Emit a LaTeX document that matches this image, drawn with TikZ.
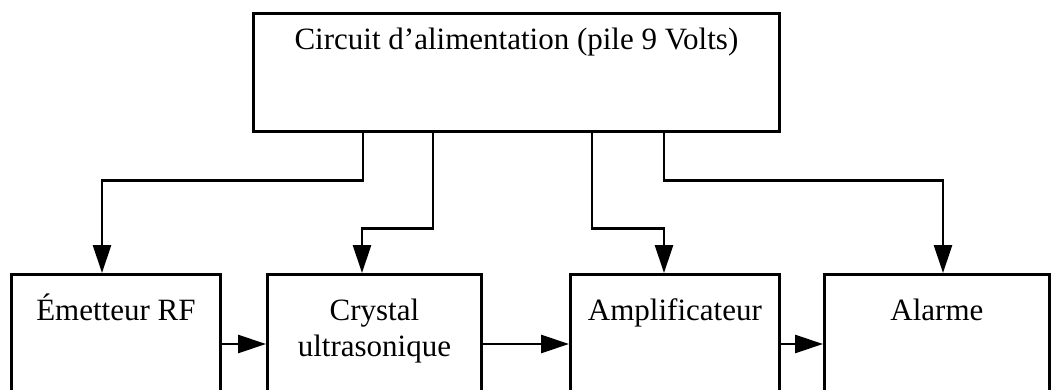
\documentclass[tikz,border=0pt]{standalone}
\usepackage{fontspec}
\setmainfont{Liberation Serif}
\usetikzlibrary{arrows.meta}

\begin{document}
\begin{tikzpicture}[x=1pt,y=-1pt,
    block/.style={draw,line width=2.8pt,anchor=north west,inner sep=0pt,align=center,
        font=\fontsize{31}{36}\selectfont,text height=46pt,text depth=81pt},
    feed/.style={line width=2.8pt,-{Triangle[length=28pt,width=18pt]}}]
\useasboundingbox (0,0) rectangle (1054,390);
\clip (0,0) rectangle (1054,390);
\node[block,minimum width=526pt,text height=36pt,text depth=82pt] (supply) at (252,12)
    {Circuit d'alimentation (pile 9 Volts)};
\node[block,minimum width=209pt] (emet) at (10,273) {Émetteur RF};
\node[block,minimum width=214pt,text height=82pt,text depth=45pt] (crystal) at (266,273)
    {Crystal\\ultrasonique};
\node[block,minimum width=209pt] (ampli) at (569,273) {Amplificateur};
\node[block,minimum width=225pt] (alarm) at (823,273) {Alarme};
\draw[feed] ([xshift=111pt]supply.south west) -- ++(0,48) -| ([xshift=92pt]emet.north west);
\draw[feed] ([xshift=181pt]supply.south west) -- ++(0,96) -| ([xshift=96pt]crystal.north west);
\draw[feed] ([xshift=340pt]supply.south west) -- ++(0,96) -| ([xshift=95pt]ampli.north west);
\draw[feed] ([xshift=412pt]supply.south west) -- ++(0,48) -| ([xshift=120pt]alarm.north west);
\draw[feed] (emet.east |- 0,344) -- (crystal.west |- 0,344);
\draw[feed] (crystal.east |- 0,344) -- (ampli.west |- 0,344);
\draw[feed] (ampli.east |- 0,344) -- (alarm.west |- 0,344);
\end{tikzpicture}
\end{document}
